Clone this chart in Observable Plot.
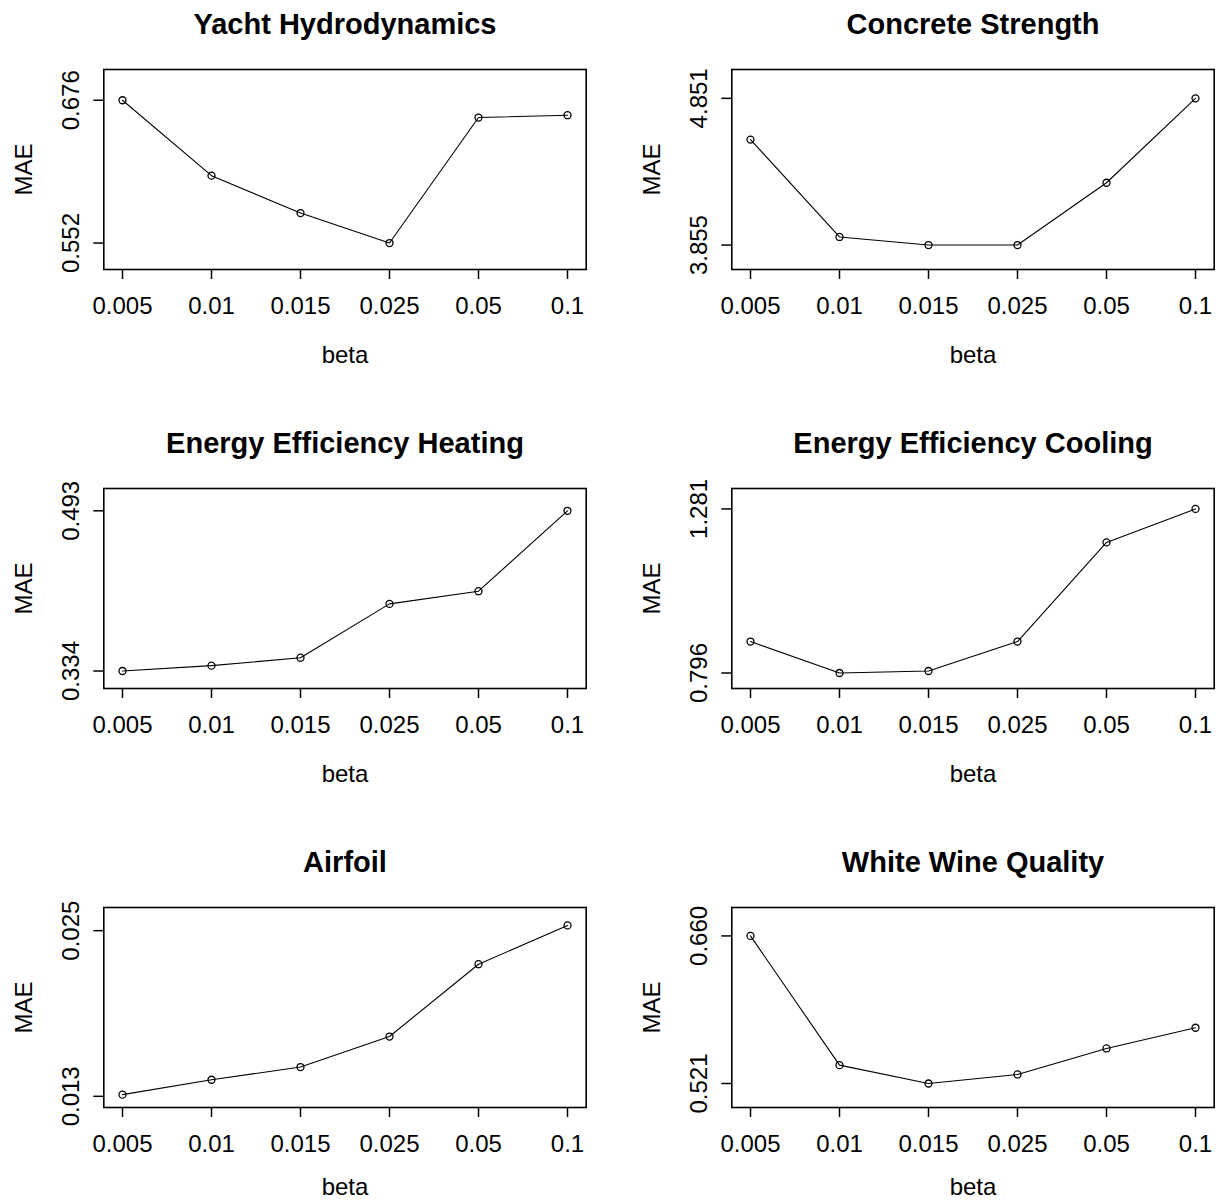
<!DOCTYPE html>
<html>
<head>
<meta charset="utf-8">
<script src="https://cdn.jsdelivr.net/npm/d3@7"></script>
<script src="https://cdn.jsdelivr.net/npm/@observablehq/plot@0.6"></script>
<style>
html, body { margin: 0; padding: 0; background: #fff; }
#chart { position: relative; width: 1221px; height: 1204px; overflow: hidden; background: #fff; }
#chart > .panel { position: absolute; width: 600px; height: 366px; }
#chart > .panel svg { max-width: none !important; }
</style>
</head>
<body>
<div id="chart"></div>
<script>
// ---- data ----
const betas = ["0.005", "0.01", "0.015", "0.025", "0.05", "0.1"];
const titles = ["Yacht Hydrodynamics", "Concrete Strength", "Energy Efficiency Heating",
                "Energy Efficiency Cooling", "Airfoil", "White Wine Quality"];
const yacht    = [0.676, 0.6105, 0.578, 0.552, 0.661, 0.663];
const concrete = [4.571, 3.910, 3.855, 3.855, 4.278, 4.851];
const heating  = [0.334, 0.3393, 0.3472, 0.4006, 0.4132, 0.493];
const cooling  = [0.889, 0.796, 0.802, 0.889, 1.182, 1.281];
const airfoil  = [0.01312, 0.0142, 0.01512, 0.01733, 0.02257, 0.02538];
const wine     = [0.660, 0.5383, 0.521, 0.5295, 0.554, 0.5735];
const series = [yacht, concrete, heating, cooling, airfoil, wine];
const yTicks = [[0.552, 0.676], [3.855, 4.851], [0.334, 0.493],
                [0.796, 1.281], [0.013, 0.025], [0.521, 0.660]];
const xLabel = "beta";
const yLabel = "MAE";

// ---- layout ----
const colLeft = [0, 628.4];
const rowTop = [0, 418.8, 837.8];
const fmt = d3.format(".3f");
const chart = document.getElementById("chart");

series.forEach((vals, i) => {
  const row = Math.floor(i / 2);
  const data = vals.map((v, j) => ({beta: betas[j], mae: v}));
  const [mn, mx] = d3.extent(vals);
  const lo0 = 0.97 * mn, hi0 = 1.03 * mx, r = hi0 - lo0;
  const plot = Plot.plot({
    width: 600,
    height: 366,
    marginLeft: 103.3,
    marginRight: 14.3,
    marginTop: 69,
    marginBottom: 97,
    x: {type: "point", domain: betas, padding: 0.2},
    y: {domain: [lo0 - 0.04 * r, hi0 + 0.04 * r]},
    style: {fontFamily: "'Liberation Sans', Arial, sans-serif", fontSize: "24px", color: "black", background: "white", overflow: "visible", maxWidth: "none"},
    marks: [
      Plot.frame({stroke: "black", strokeWidth: 1.6}),
      Plot.axisX({tickSize: 10, tickPadding: 17, fontSize: 24, strokeWidth: 1.5, label: null}),
      Plot.axisY({ticks: yTicks[i], tickSize: 10, strokeWidth: 1.5, tickFormat: () => "", label: null}),
      Plot.text(yTicks[i], {y: d => d, frameAnchor: "left", dx: -32.6, rotate: -90, text: d => fmt(d), fontSize: 24, textAnchor: "middle", lineAnchor: "middle"}),
      Plot.line(data, {x: "beta", y: "mae", stroke: "black", strokeWidth: 1.1}),
      Plot.dot(data, {x: "beta", y: "mae", r: 3.5, stroke: "black", strokeWidth: 1.3, fill: "none"}),
      Plot.text([titles[i]], {frameAnchor: "top", dy: -45, fontWeight: "bold", fontSize: 29, textAnchor: "middle", lineAnchor: "middle"}),
      Plot.text([yLabel], {frameAnchor: "left", dx: -79, rotate: -90, fontSize: 24, textAnchor: "middle", lineAnchor: "middle"}),
      Plot.text([xLabel], {frameAnchor: "bottom", dy: row === 2 ? 80 : 86, fontSize: 24, textAnchor: "middle", lineAnchor: "middle"})
    ]
  });
  const wrap = document.createElement("div");
  wrap.className = "panel";
  wrap.style.left = colLeft[i % 2] + "px";
  wrap.style.top = rowTop[row] + "px";
  wrap.appendChild(plot);
  chart.appendChild(wrap);
});
</script>
</body>
</html>
